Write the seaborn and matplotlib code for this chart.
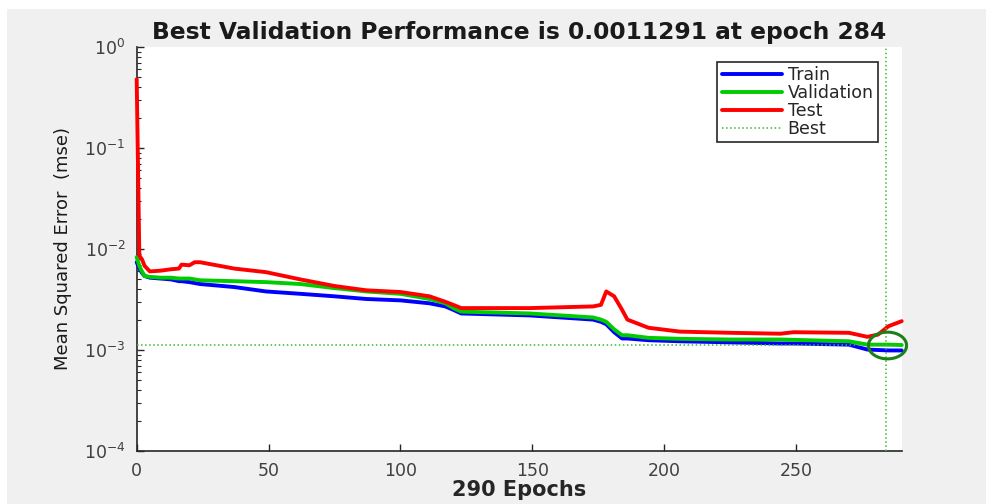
import pandas as pd
import matplotlib.pyplot as plt
import seaborn as sns
import numpy as np
from matplotlib.patches import Rectangle
from matplotlib.path import Path


# values
epochs = [0, 1, 2, 3, 5, 9, 13, 16, 17, 20, 22, 24, 37, 49, 62, 75, 87, 100,
          111, 117, 120, 123, 149, 173, 176, 178, 181, 184, 186, 194, 206, 225,
          244, 249, 270, 277, 281, 285, 290]
train_mse = [0.0074, 0.0064, 0.0058, 0.0054, 0.0052, 0.0051, 0.0050, 0.0048, 0.0048,
             0.0047, 0.0046, 0.0045, 0.0042, 0.0038, 0.0036, 0.0034, 0.0032, 0.0031,
             0.0029, 0.0027, 0.0025, 0.0023, 0.0022, 0.0020, 0.0019, 0.0018, 0.0015,
             0.0013, 0.0013, 0.00125, 0.00122, 0.00119, 0.00116, 0.00116, 0.00113,
             0.00101, 0.00100, 0.00099, 0.00099]
val_mse = [0.0083, 0.0068, 0.0060, 0.0054, 0.0053, 0.0052, 0.0052, 0.0051, 0.0051,
           0.0051, 0.0050, 0.0049, 0.0048, 0.0047, 0.0045, 0.0041, 0.0038, 0.0036,
           0.0032, 0.0029, 0.0026, 0.0024, 0.0023, 0.0021, 0.0020, 0.0019, 0.0016,
           0.0014, 0.0014, 0.00132, 0.00129, 0.00127, 0.00127, 0.00126, 0.00122,
           0.00113, 0.00113, 0.00113, 0.00112]
test_mse = [0.48, 0.0086, 0.0079, 0.0068, 0.0060, 0.0061, 0.0063, 0.0064, 0.0070,
            0.0069, 0.0074, 0.0074, 0.0064, 0.0059, 0.0050, 0.0043, 0.0039, 0.00375,
            0.0034, 0.0030, 0.0028, 0.0026, 0.0026, 0.0027, 0.0028, 0.0038, 0.0034,
            0.0025, 0.0020, 0.00166, 0.00152, 0.00148, 0.00145, 0.0015, 0.00148,
            0.00135, 0.00142, 0.00172, 0.00193]

best_epoch = 284
best_perf = 0.0011291
n_epochs = 290
xticks = [0, 50, 100, 150, 200, 250]

series_names = ['Train', 'Validation', 'Test']
series_colors = ['#0000ff', '#00cc00', '#ff0000']

df = pd.DataFrame({'epoch': epochs, 'Train': train_mse,
                   'Validation': val_mse, 'Test': test_mse})
long_df = df.melt(id_vars='epoch', var_name='set', value_name='mse')

sns.set_style('white')
plt.rcParams['font.family'] = ['DejaVu Sans']

fig = plt.figure(figsize=(9.86, 5.04), dpi=100)
fig.patch.set_facecolor('white')
# matlab style gray window background
fig.patches.append(Rectangle((7 / 986, 0), 1, 1 - 9 / 504, transform=fig.transFigure,
                             facecolor='#f0f0f0', edgecolor='none', zorder=-10))
ax = fig.add_axes([136.7 / 986, 1 - 451 / 504, 765 / 986, 404 / 504])
ax.set_facecolor('white')

sns.lineplot(data=long_df, x='epoch', y='mse', hue='set', hue_order=series_names,
             palette=series_colors, lw=2.8, ax=ax, legend=False, sort=False,
             zorder=3, clip_on=False)

best_color = '#33bb33'
ax.axhline(best_perf, xmin=0, xmax=1, color=best_color, ls=':', lw=1.1, zorder=4)
ax.axvline(best_epoch, color=best_color, ls=':', lw=1.1, zorder=4)

# ellipse marker around the best point
t = np.linspace(0, 2 * np.pi, 60)
ell = Path(np.column_stack([np.cos(t), 0.7 * np.sin(t)]))
ax.plot([best_epoch + 0.5], [best_perf], marker=ell, ms=27.5, mfc='none',
        mec='#1a801a', mew=2.2, clip_on=False, zorder=5)

ax.set_yscale('log')
ax.set_xlim(0, n_epochs)
ax.set_ylim(1e-4, 1)
ax.set_xticks(xticks)

for side in ['top', 'right']:
    ax.spines[side].set_visible(False)
for side in ['left', 'bottom']:
    ax.spines[side].set_color('#262626')
    ax.spines[side].set_linewidth(1.2)

ax.tick_params(axis='both', which='major', direction='in', length=5, width=1,
               colors='#262626', labelsize=12.5, labelcolor='#404040', pad=8,
               left=True, bottom=True)
ax.tick_params(axis='y', which='minor', direction='in', length=3, width=0.8,
               colors='#262626', left=True)
ax.tick_params(axis='x', which='minor', bottom=False)

ax.set_title(f'Best Validation Performance is {best_perf} at epoch {best_epoch}',
             fontsize=16.8, fontweight='bold', color='#1a1a1a', pad=6)
ax.set_xlabel(f'{n_epochs} Epochs', fontsize=15, fontweight='bold', color='#262626')
ax.xaxis.set_label_coords(0.5, -0.072)
ax.set_ylabel('Mean Squared Error  (mse)', fontsize=13, color='#1a1a1a')
ax.yaxis.set_label_coords(-0.085, 0.5)

handles = [plt.Line2D([], [], color=c, lw=2.8) for c in series_colors]
handles.append(plt.Line2D([], [], color=best_color, ls=':', lw=1.1))
leg = ax.legend(handles, series_names + ['Best'], loc='upper right',
                bbox_to_anchor=(0.969, 0.964), borderaxespad=0, fontsize=12.5,
                fancybox=False, framealpha=1, edgecolor='#262626',
                handlelength=3.5, handletextpad=0.3, labelspacing=0.0,
                borderpad=0.25)
leg.get_frame().set_linewidth(1.2)

plt.savefig('out.png', dpi=100)
